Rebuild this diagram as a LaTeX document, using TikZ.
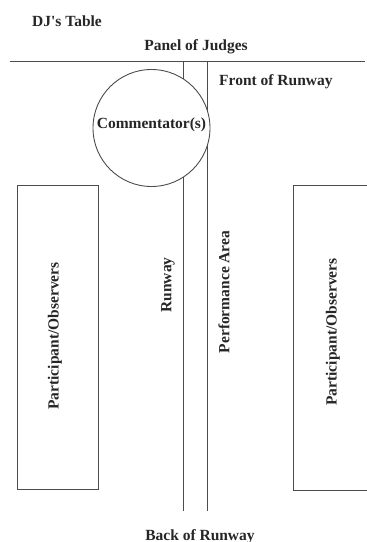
\documentclass[tikz,border=0pt]{standalone}
\usepackage{fontspec}
\setmainfont{Liberation Serif}
\begin{document}
\begin{tikzpicture}[x=1pt,y=-1pt,
  lbl/.style={font=\fontsize{15.5}{18}\selectfont\bfseries, inner sep=0pt, text=black!85},
  ln/.style={draw=black!70, line width=0.9pt}]
\useasboundingbox (0,0) rectangle (367,542);
% top line
\coordinate (tl) at (10,61);
\coordinate (tr) at (365,61);
\draw[ln] (tl) -- (tr);
% runway lines
\coordinate (r1t) at (183,61);
\coordinate (r1b) at (183,511);
\coordinate (r2t) at (207.5,61);
\coordinate (r2b) at (207.5,511);
\draw[ln] (r1t) -- (r1b);
\draw[ln] (r2t) -- (r2b);
% commentator circle
\node[ln, circle, fill=white, minimum size=117pt, inner sep=0pt] (circ) at (151.5,128) {};
\node[lbl, anchor=base] (comm) at (151.5,128) {Commentator(s)};
% participant boxes
\node[ln, rectangle, minimum width=81pt, minimum height=304pt, inner sep=0pt, anchor=north west] (lbox) at (17,185) {};
\draw[ln] (375,185) -- (293,185) -- (293,490) -- (375,490);
% labels
\node[lbl, anchor=base west] (dj) at (32,26.7) {DJ\textquotesingle s Table};
\node[lbl, anchor=base] (panel) at (196,50) {Panel of Judges};
\node[lbl, anchor=base west] (front) at (219,85) {Front of Runway};
\node[lbl, rotate=90] (lpo) at (55,336) {Participant/Observers};
\node[lbl, rotate=90] (rpo) at (333,332) {Participant/Observers};
\node[lbl, rotate=90] (runway) at (168,285) {Runway};
\node[lbl, rotate=90] (perf) at (224,292) {Performance Area};
\node[lbl, anchor=base] (back) at (200,540) {Back of Runway};
\end{tikzpicture}
\end{document}
